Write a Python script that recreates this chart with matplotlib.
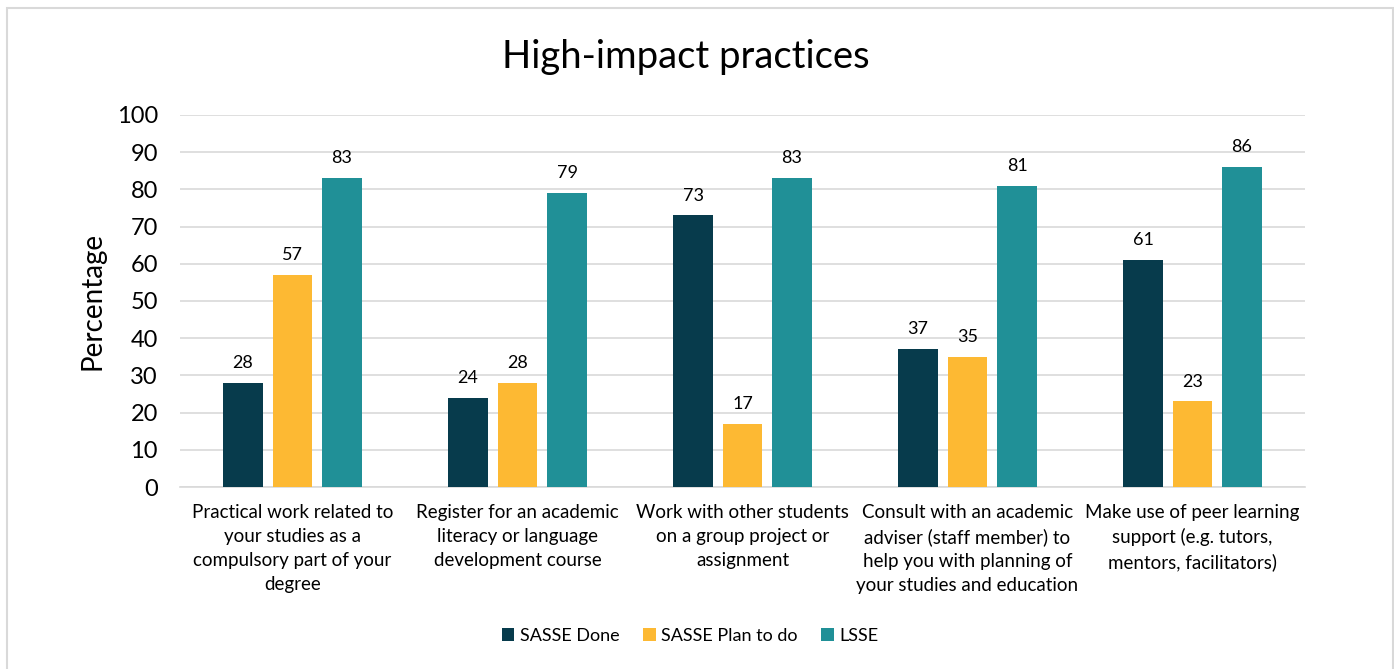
import numpy as np
import matplotlib.pyplot as plt
from matplotlib.patches import Rectangle

plt.rcParams['font.family'] = ['Lato', 'DejaVu Sans']

categories = [
    "Practical work related to\nyour studies as a\ncompulsory part of your\ndegree",
    "Register for an academic\nliteracy or language\ndevelopment course",
    "Work with other students\non a group project or\nassignment",
    "Consult with an academic\nadviser (staff member) to\nhelp you with planning of\nyour studies and education",
    "Make use of peer learning\nsupport (e.g. tutors,\nmentors, facilitators)",
]
sasse_done = [28, 24, 73, 37, 61]
sasse_plan = [57, 28, 17, 35, 23]
lsse = [83, 79, 83, 81, 86]

series = [
    ("SASSE Done", sasse_done, "#073b4c"),
    ("SASSE Plan to do", sasse_plan, "#fdb933"),
    ("LSSE", lsse, "#209097"),
]

fig = plt.figure(figsize=(13.94, 6.69), dpi=100)
ax = fig.add_axes([180 / 1394, 1 - 487 / 669, 1125 / 1394, 372 / 669])

x = np.arange(len(categories))
width = 0.176
step = 0.22
for i, (name, vals, col) in enumerate(series):
    pos = x + (i - 1) * step
    bars = ax.bar(pos, vals, width, color=col, label=name, zorder=3)
    for b, v in zip(bars, vals):
        ax.text(b.get_x() + b.get_width() / 2, v + 3.2, str(v),
                ha="center", va="bottom", fontsize=13, color="#000000")

ax.set_xlim(-0.5, len(categories) - 0.5)
ax.set_ylim(0, 100)
ax.set_yticks(range(0, 101, 10))
ax.tick_params(axis="y", labelsize=17, length=0, pad=16, colors="#000000")
ax.tick_params(axis="x", length=0, pad=12)
ax.set_xticks(x)
ax.set_xticklabels(categories, fontsize=13.5, linespacing=1.5, color="#000000")
ax.yaxis.grid(True, color="#d9d9d9", linewidth=1.2, zorder=0)
for s in ["top", "right", "left"]:
    ax.spines[s].set_visible(False)
ax.spines["bottom"].set_color("#d9d9d9")
ax.spines["bottom"].set_linewidth(1.2)
ax.set_ylabel("Percentage", fontsize=20, labelpad=8)

fig.text(686 / 1394, 1 - 57 / 669, "High-impact practices", ha="center", va="center", fontsize=27.5)

fig.legend(loc="center", bbox_to_anchor=(690 / 1394, 1 - 636 / 669), ncol=3, frameon=False,
           fontsize=13, handlelength=0.7, handleheight=0.7, columnspacing=1.3, handletextpad=0.3)

fig.patches.append(Rectangle((7 / 1394, -0.02), 1386 / 1394, 1 - 8 / 669 + 0.02,
                             transform=fig.transFigure, fill=False,
                             edgecolor="#d9d9d9", linewidth=1.5))

fig.savefig("out.png", dpi=100)
